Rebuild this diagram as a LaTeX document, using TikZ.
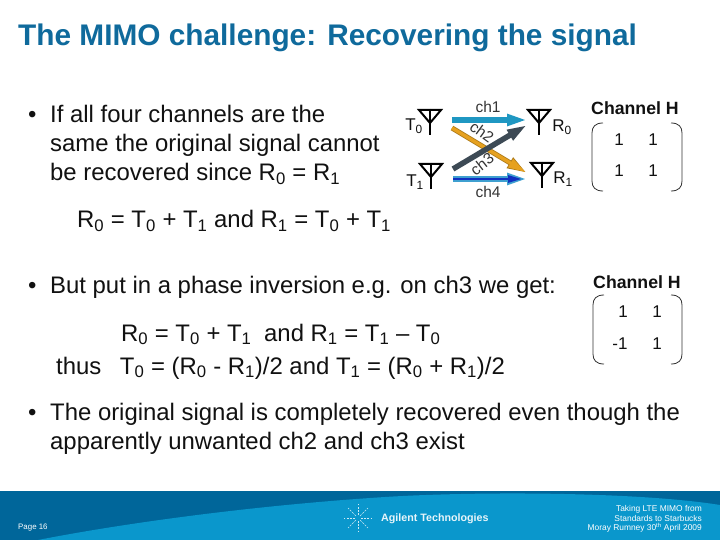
\documentclass[tikz,border=0pt]{standalone}
\usepackage{fontspec}
\setmainfont{Liberation Sans}
\usetikzlibrary{arrows.meta}
\definecolor{titleblue}{HTML}{0F6A9C}
\definecolor{bardark}{HTML}{00669A}
\definecolor{barlight}{HTML}{0A97CC}
\definecolor{cteal}{HTML}{1F97C2}
\definecolor{corange}{HTML}{E6A11F}
\definecolor{cslate}{HTML}{3D4A55}
\definecolor{cblue}{HTML}{1030C0}
\definecolor{clight}{HTML}{3FA0D0}
\definecolor{txt}{HTML}{111111}
\tikzset{
  x=1pt,y=-1pt,
  body/.style={font=\fontsize{23.9}{29}\selectfont,text=txt,inner sep=0pt,anchor=base west,align=left},
  sml/.style={font=\fontsize{17}{18}\selectfont,text=txt,inner sep=0pt},
  chn/.style={font=\fontsize{15.5}{16}\selectfont,text=txt!85,inner sep=0pt},
  hdr/.style={font=\bfseries\fontsize{17.7}{18}\selectfont,text=txt,inner sep=0pt},
  ant/.style={line width=2pt,black,line cap=butt,line join=miter},
  chan/.style={line width=#1,-{Triangle[length=20pt,width=11pt]},shorten >=0pt},
  brk/.style={line width=0.8pt,black!80},
  foot/.style={font=\fontsize{8.4}{9.5}\selectfont,text=white,inner sep=0pt}
}
\newcommand{\antenna}[2]{%
  \draw[ant] (#1,#2) -- (#1,#2+26);
  \draw[ant] (#1-11,#2+1) -- (#1+11,#2+1) -- (#1,#2+14) -- cycle;
}
\newcommand{\chmatrix}[4]{%
  \draw[brk] (#1+11,#2) .. controls (#1+3,#2) and (#1,#2+4) .. (#1,#2+10) -- (#1,#3-10) .. controls (#1,#3-4) and (#1+3,#3) .. (#1+11,#3);
  \draw[brk] (#4-11,#2) .. controls (#4-3,#2) and (#4,#2+4) .. (#4,#2+10) -- (#4,#3-10) .. controls (#4,#3-4) and (#4-3,#3) .. (#4-11,#3);
}
\begin{document}
\begin{tikzpicture}
\useasboundingbox (0,0) rectangle (720,540);
\fill[white] (0,0) rectangle (720,540);
% footer
\fill[bardark] (0,491) rectangle (720,540);
\fill[barlight] (38,540) .. controls (130,522) and (260,505) .. (385,497) .. controls (480,491) and (640,492) .. (720,505) -- (720,540) -- cycle;
% title
\node[font=\bfseries\fontsize{29.8}{32}\selectfont,text=titleblue,inner sep=0pt,anchor=base west] (title) at (18,46) {The MIMO challenge: Recovering the signal};
% first bullet
\node[body] (b1dot) at (28,123) {•};
\node[body] (b1a) at (50,123) {If all four channels are the};
\node[body] (b1b) at (50,152) {same the original signal cannot};
\node[body] (b1c) at (50,181) {be recovered since R$_{\mathrm{0}}$ = R$_{\mathrm{1}}$};
% antennas
\antenna{430}{109}
\antenna{431}{163}
\antenna{539}{109}
\antenna{542}{162}
\node[sml] (t0) at (414,126) {T$_{\mathrm{0}}$};
\node[sml] (t1) at (415,182) {T$_{\mathrm{1}}$};
\node[sml] (r0) at (562,127) {R$_{\mathrm{0}}$};
\node[sml] (r1) at (563,179) {R$_{\mathrm{1}}$};
% channels
\coordinate (c1a) at (452,120); \coordinate (c1b) at (527,120);
\coordinate (c2a) at (452,128); \coordinate (c2b) at (527,173);
\coordinate (c3a) at (453,169); \coordinate (c3b) at (527,125);
\coordinate (c4a) at (453,179); \coordinate (c4b) at (527,179);
\draw[chan=5.5pt,cteal] (c1a) -- (c1b);
\draw[chan=5pt,corange!75!black] (c2a) -- (c2b);
\draw[line width=3.4pt,corange,-{Triangle[length=18pt,width=9pt]}] (c2a) -- ([xshift=-1pt,yshift=0.6pt]c2b);
\draw[chan=5.5pt,cslate] (c3a) -- (c3b);
\draw[chan=6pt,clight] (c4a) -- (c4b);
\draw[line width=2.6pt,cblue,-{Triangle[length=14pt,width=7pt]}] (c4a) -- ([xshift=-5pt]c4b);
\node[chn] (ch1) at (488,107) {ch1};
\node[chn,rotate=-36] (ch2) at (482,132) {ch2};
\node[chn,rotate=38] (ch3) at (482,164) {ch3};
\node[chn] (ch4) at (488,192) {ch4};
% matrix 1
\node[hdr] (h1) at (635,108) {Channel H};
\chmatrix{592}{123}{191}{682}
\node[sml] (m11) at (619,140) {1};
\node[sml] (m12) at (653,140) {1};
\node[sml] (m13) at (619,171) {1};
\node[sml] (m14) at (653,171) {1};
% equation
\node[body] (e1) at (77,228) {R$_{\mathrm{0}}$ = T$_{\mathrm{0}}$ + T$_{\mathrm{1}}$ and R$_{\mathrm{1}}$ = T$_{\mathrm{0}}$ + T$_{\mathrm{1}}$};
% second bullet
\node[body] (b2dot) at (28,293) {•};
\node[body] (b2) at (50,293) {But put in a phase inversion e.g. on ch3 we get:};
\node[body] (e2) at (121,341) {R$_{\mathrm{0}}$ = T$_{\mathrm{0}}$ + T$_{\mathrm{1}}$\hspace{6pt} and R$_{\mathrm{1}}$ = T$_{\mathrm{1}}$ – T$_{\mathrm{0}}$};
\node[body] (e3) at (56,374) {thus\hspace{12pt} T$_{\mathrm{0}}$ = (R$_{\mathrm{0}}$ - R$_{\mathrm{1}}$)/2 and T$_{\mathrm{1}}$ = (R$_{\mathrm{0}}$ + R$_{\mathrm{1}}$)/2};
% matrix 2
\node[hdr] (h2) at (637,282) {Channel H};
\chmatrix{593}{295}{364}{682}
\node[sml] (m21) at (623,312) {1};
\node[sml] (m22) at (657,312) {1};
\node[sml] (m23) at (620,344) {-1};
\node[sml] (m24) at (657,344) {1};
% third bullet
\node[body] (b3dot) at (28,420) {•};
\node[body] (b3a) at (50,420) {The original signal is completely recovered even though the};
\node[body] (b3b) at (50,449) {apparently unwanted ch2 and ch3 exist};
% footer text
\node[foot,anchor=west,font=\fontsize{7.9}{9}\selectfont] (page) at (18,528) {Page 16};
\foreach \a in {0,45,...,315} \draw[white!80!barlight,line width=0.6pt,dash pattern=on 2pt off 1.2pt] (358,518) ++(\a:3) -- ++(\a:11);
\node[font=\bfseries\fontsize{10.7}{12}\selectfont,text=white!90!barlight,inner sep=0pt,anchor=west] (logo) at (381,519) {Agilent Technologies};
\node[foot,anchor=east,align=right] (cr) at (702,519) {Taking LTE MIMO from\\Standards to Starbucks\\Moray Rumney 30\textsuperscript{th} April 2009};
\end{tikzpicture}
\end{document}
